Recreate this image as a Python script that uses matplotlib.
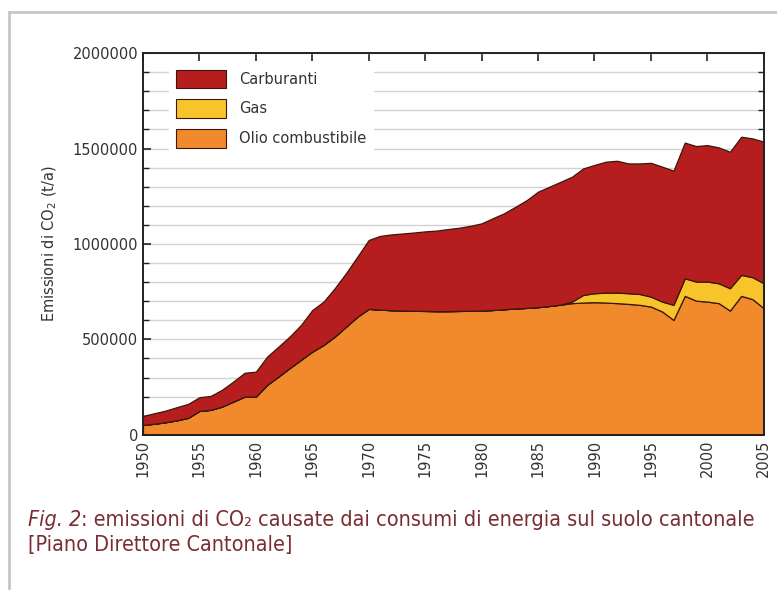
import numpy as np
import matplotlib.pyplot as plt
from matplotlib.patches import Patch
from matplotlib.lines import Line2D
from matplotlib.ticker import FuncFormatter

years = list(range(1950, 2006))

# t/a per year
olio = [52000, 58000, 66000, 76000, 89000, 125000, 131000, 148000, 174000, 200000,
        200000, 262000, 305000, 350000, 393000, 436000, 471000, 515000, 567000, 619000,
        660000, 656000, 653000, 651000, 650000, 649000, 648000, 648000, 649000, 650000,
        651000, 654000, 658000, 662000, 665000, 669000, 675000, 682000, 690000, 693000,
        695000, 693000, 690000, 686000, 681000, 672000, 646000, 602000, 728000, 703000,
        698000, 690000, 651000, 728000, 711000, 663000]

gas = [0] * 38 + [8000, 40000, 47000, 52000, 55000, 56000, 57000, 52000, 52000, 79000,
                  92000, 100000, 105000, 104000, 117000, 110000, 115000, 131000]

carburanti = [47000, 55000, 61000, 69000, 73000, 72000, 73000, 88000, 105000, 125000,
              131000, 148000, 157000, 165000, 183000, 218000, 227000, 254000, 281000, 315000,
              361000, 386000, 397000, 404000, 410000, 417000, 422000, 430000, 436000, 445000,
              457000, 481000, 503000, 533000, 565000, 605000, 625000, 644000, 654000, 663000,
              672000, 686000, 691000, 680000, 684000, 701000, 707000, 703000, 711000, 710000,
              715000, 712000, 715000, 724000, 727000, 742000]

tick_years = list(range(1950, 2006, 5))

col_carb = '#b51d1f'
col_gas = '#f8c42c'
col_olio = '#f08a2c'
edge = '#3a1808'

fig = plt.figure(figsize=(7.77, 5.9), dpi=100)
ax = fig.add_axes([0.184, 0.263, 0.799, 0.647])

ax.stackplot(years, olio, gas, carburanti, colors=[col_olio, col_gas, col_carb],
             edgecolor=edge, linewidth=0.9, zorder=2)

ax.set_xlim(1950, 2005)
ax.set_ylim(0, 2000000)
ax.set_yticks(range(0, 2000001, 500000))
ax.set_yticks(range(0, 2000001, 100000), minor=True)
ax.yaxis.set_major_formatter(FuncFormatter(lambda v, p: '%d' % v))
ax.grid(True, which='both', axis='y', color='#d2d2d2', linewidth=1.0, zorder=0)
ax.set_axisbelow(True)
ax.tick_params(which='both', direction='in', top=True, right=True,
               labelsize=10.5, labelcolor='#333333', color='#222222')
ax.tick_params(which='major', length=6, width=1.2)
ax.tick_params(which='minor', length=4, width=1.0)
# year labels stand vertical in the reference
ax.set_xticks(tick_years, labels=[str(y) for y in tick_years],
              rotation=90, ha='center', va='top')
for s in ax.spines.values():
    s.set_linewidth(1.4)
    s.set_color('#222222')
ax.set_ylabel('Emissioni di CO$_2$ (t/a)', fontsize=10.5, color='#333333', labelpad=10)

handles = [Patch(facecolor=col_carb, edgecolor=edge, linewidth=0.8),
           Patch(facecolor=col_gas, edgecolor=edge, linewidth=0.8),
           Patch(facecolor=col_olio, edgecolor=edge, linewidth=0.8)]
leg = ax.legend(handles, ['Carburanti', 'Gas', 'Olio combustibile'],
                loc='upper left', bbox_to_anchor=(0.03, 0.995), frameon=True,
                fontsize=10.5, handlelength=3.4, handleheight=1.6,
                labelspacing=0.75, borderpad=0.5, handletextpad=0.9, fancybox=False)
leg.get_frame().set_edgecolor('white')
leg.get_frame().set_facecolor('white')
leg.get_frame().set_alpha(1.0)
for t in leg.get_texts():
    t.set_color('#333333')

# page border
fig.add_artist(Line2D([0.011, 0.011], [0.0, 0.98], transform=fig.transFigure,
                      color='#c6c6c6', linewidth=2))
fig.add_artist(Line2D([0.011, 1.0], [0.98, 0.98], transform=fig.transFigure,
                      color='#c6c6c6', linewidth=2))

cap_col = '#7a2e32'
cap_font = dict(fontsize=15.5, color=cap_col, family='DejaVu Sans', fontstretch='condensed')
t1 = fig.text(0.036, 0.108, 'Fig. 2', style='italic', va='baseline', **cap_font)
fig.text(0.036, 0.066, '[Piano Direttore Cantonale]', va='baseline', **cap_font)
ax.annotate(': emissioni di CO\u2082 causate dai consumi di energia sul suolo cantonale',
            xy=(1, 0), xycoords=t1, va='bottom', ha='left', annotation_clip=False, **cap_font)

fig.savefig('out.png', dpi=100)
